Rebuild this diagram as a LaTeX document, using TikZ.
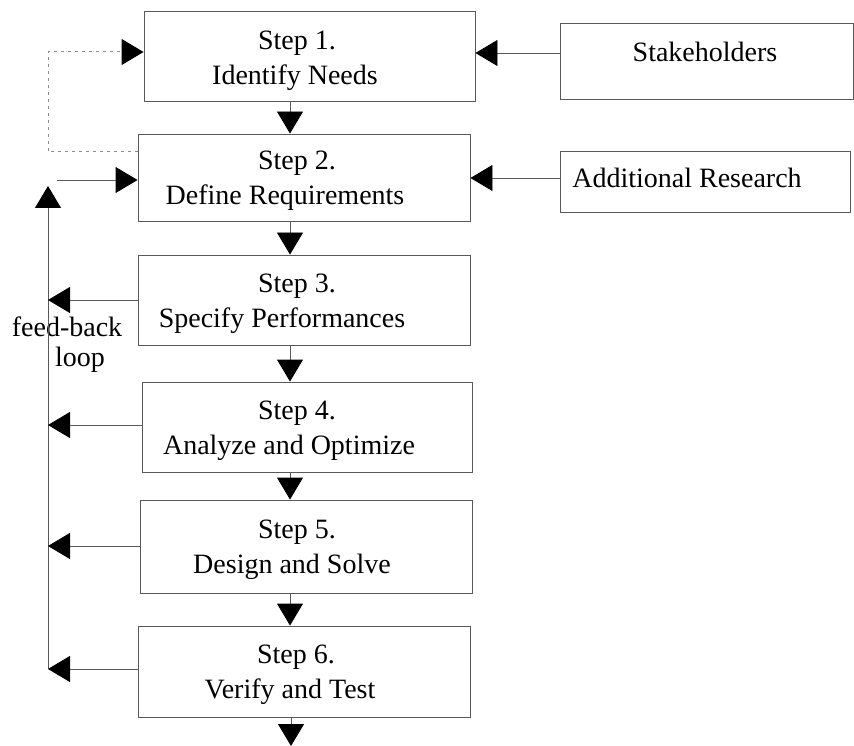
\documentclass[tikz,border=0pt]{standalone}
\usepackage{fontspec}
\setmainfont{Liberation Serif}
\usetikzlibrary{arrows.meta}
\begin{document}
\begin{tikzpicture}[x=1pt,y=-1pt,
  box/.style={draw=black!65, line width=0.9pt, rectangle, inner sep=0pt},
  lbl/.style={inner sep=0pt, anchor=base, font=\fontsize{28}{34}\selectfont},
  tip/.style={-{Triangle[length=22pt,width=26pt,color=black,fill=black,sep=0pt]}},
  conn/.style={draw=black!65, line width=0.9pt},
  backdash/.style={draw=black!45, line width=1pt, dash pattern=on 3pt off 4pt}]
\useasboundingbox (0,0) rectangle (854,746);

% process boxes
\node[box, minimum width=331pt, minimum height=90pt] (s1) at (309.5,56) {};
\node[box, minimum width=332pt, minimum height=87pt] (s2) at (304,177.5) {};
\node[box, minimum width=332pt, minimum height=90pt] (s3) at (304,300) {};
\node[box, minimum width=330pt, minimum height=90pt] (s4) at (307,427) {};
\node[box, minimum width=332pt, minimum height=93pt] (s5) at (306,546.5) {};
\node[box, minimum width=332pt, minimum height=91pt] (s6) at (304,671.5) {};

% input boxes
\node[box, minimum width=293pt, minimum height=76pt] (sh) at (706.5,61) {};
\node[box, minimum width=290pt, minimum height=61pt] (ar) at (705,181.5) {};

% labels
\node[lbl] (l1a) at (297,50) {Step 1.};
\node[lbl] (l1b) at (295,85) {Identify Needs};
\node[lbl] (l2a) at (297,170) {Step 2.};
\node[lbl] (l2b) at (285,205) {Define Requirements};
\node[lbl] (l3a) at (297,292) {Step 3.};
\node[lbl] (l3b) at (282,327) {Specify Performances};
\node[lbl] (l4a) at (297,419) {Step 4.};
\node[lbl] (l4b) at (289,454) {Analyze and Optimize};
\node[lbl] (l5a) at (297,538) {Step 5.};
\node[lbl] (l5b) at (292,573) {Design and Solve};
\node[lbl] (l6a) at (296,663) {Step 6.};
\node[lbl] (l6b) at (290,698) {Verify and Test};
\node[lbl] (lsh) at (705,62) {Stakeholders};
\node[lbl] (lar) at (687,188) {Additional Research};
\node[lbl] (fb1) at (67,336) {feed-back};
\node[lbl] (fb2) at (80,366) {loop};

% main flow
\draw[conn, tip] (s1.south -| 290,0) -- (s2.north -| 290,0);
\draw[conn, tip] (s2.south -| 290,0) -- (s3.north -| 290,0);
\draw[conn, tip] (s3.south -| 290,0) -- (s4.north -| 290,0);
\draw[conn, tip] (s4.south -| 290,0) -- (s5.north -| 290,0);
\draw[conn, tip] (s5.south -| 290,0) -- (s6.north -| 290,0);
\coordinate (out) at (291,746);
\draw[conn, tip] (s6.south -| 291,0) -- (out);

% inputs
\draw[conn, tip] (sh.west |- 0,53) -- (s1.east |- 0,53);
\draw[conn, tip] (ar.west |- 0,178) -- (s2.east |- 0,178);

% feed-back loop
\coordinate (fbtop) at (48,186);
\coordinate (fbbot) at (48,669);
\coordinate (f3) at (48,300);
\coordinate (f4) at (48,425);
\coordinate (f5) at (48,546);
\coordinate (fin) at (57,180);
\draw[conn, tip] (fbbot) -- (fbtop);
\draw[conn, tip] (s3.west |- f3) -- (f3);
\draw[conn, tip] (s4.west |- f4) -- (f4);
\draw[conn, tip] (s5.west |- f5) -- (f5);
\draw[conn, tip] (s6.west |- fbbot) -- (fbbot);
\draw[conn, tip] (fin) -- (s2.west |- fin);

% return path from step 2 to step 1
\coordinate (d1) at (48,152);
\coordinate (d2) at (48,52);
\draw[backdash, tip] (s2.west |- d1) -- (d1) -- (d2) -- (s1.west |- d2);
\end{tikzpicture}
\end{document}
